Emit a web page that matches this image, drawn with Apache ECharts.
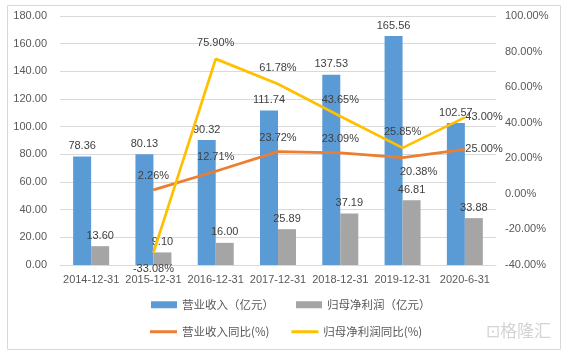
<!DOCTYPE html>
<html>
<head>
<meta charset="utf-8">
<script src="https://cdn.jsdelivr.net/npm/echarts@6/dist/echarts.min.js"></script>
<style>
  html, body { margin: 0; padding: 0; background: #fff; }
  #graph { width: 568px; height: 353px; }
</style>
</head>
<body>
<div id="graph"></div>
<script>
// data
const years = ['2014-12-31', '2015-12-31', '2016-12-31', '2017-12-31', '2018-12-31', '2019-12-31', '2020-6-31'];
const revenue = [78.36, 80.13, 90.32, 111.74, 137.53, 165.56, 102.57];
const profit = [13.60, 9.10, 16.00, 25.89, 37.19, 46.81, 33.88];
const revenueYoy = [null, 2.26, 12.71, 23.72, 23.09, 20.38, 25.00];
const profitYoy = [null, -33.08, 75.90, 61.78, 43.65, 25.85, 43.00];

// where excel put the line labels
const revenueYoyPos = [null, 'top', 'top', 'top', 'top', 'bottom', 'right'];
const profitYoyPos = [null, 'bottom', 'top', 'top', 'top', 'top', 'right'];

const font = 'Liberation Sans';
const cjk = '"Noto Sans CJK SC", sans-serif';

function lineData(values, pos) {
  return values.map(function (v, i) {
    if (v === null) return null;
    let item = {value: v, label: {position: pos[i]}};
    if (i === 5 && pos[i] === 'bottom') item.label.offset = [16, 0];
    if (pos[i] === 'right') item.label.distance = 0;
    return item;
  });
}

let myChart = echarts.init(document.getElementById('graph'));
myChart.setOption({
  backgroundColor: '#fff',
  animation: false,
  grid: {left: 60, right: 72, top: 16, bottom: 88},
  legend: [
    {
      top: 294, left: 146,
      itemWidth: 26, itemHeight: 7, itemGap: 22,
      icon: 'rect',
      textStyle: {fontFamily: cjk, fontSize: 11.5, color: '#595959'},
      data: ['营业收入（亿元）', '归母净利润（亿元）']
    },
    {
      top: 321, left: 145,
      itemWidth: 27, itemHeight: 3, itemGap: 22,
      icon: 'rect',
      textStyle: {fontFamily: cjk, fontSize: 11.5, color: '#595959'},
      data: ['营业收入同比(%)', '归母净利润同比(%)']
    }
  ],
  graphic: [
    {
      type: 'rect', left: 5, top: 3,
      shape: {width: 553, height: 344},
      style: {fill: 'none', stroke: '#d9d9d9', lineWidth: 1}
    },
    {
      type: 'text', left: 486, top: 322,
      style: {text: '⊡格隆汇', fontFamily: cjk, fontSize: 17, fill: '#d4d4d4'}
    }
  ],
  xAxis: {
    type: 'category',
    data: years,
    axisLine: {lineStyle: {color: '#d9d9d9'}},
    axisTick: {show: false},
    axisLabel: {fontFamily: font, fontSize: 11, color: '#595959', margin: 9, interval: 0}
  },
  yAxis: [
    {
      type: 'value', min: 0, max: 180, interval: 20,
      axisLine: {show: false}, axisTick: {show: false},
      splitLine: {lineStyle: {color: '#d9d9d9'}},
      axisLabel: {
        fontFamily: font, fontSize: 11, color: '#595959', margin: 13,
        formatter: function (v) { return v.toFixed(2); }
      }
    },
    {
      type: 'value', min: -40, max: 100, interval: 20,
      axisLine: {show: false}, axisTick: {show: false},
      splitLine: {show: false},
      axisLabel: {
        fontFamily: font, fontSize: 11, color: '#595959', margin: 9,
        formatter: function (v) { return v.toFixed(2) + '%'; }
      }
    }
  ],
  series: [
    {
      name: '营业收入（亿元）',
      type: 'bar',
      barWidth: 18, barGap: '0%',
      itemStyle: {color: '#5B9BD5'},
      label: {
        show: true, position: 'top', distance: 5,
        fontFamily: font, fontSize: 11, color: '#404040',
        formatter: function (p) { return p.value.toFixed(2); }
      },
      data: revenue
    },
    {
      name: '归母净利润（亿元）',
      type: 'bar',
      barWidth: 18, barGap: '0%',
      itemStyle: {color: '#A5A5A5'},
      label: {
        show: true, position: 'top', distance: 5,
        fontFamily: font, fontSize: 11, color: '#404040',
        formatter: function (p) { return p.value.toFixed(2); }
      },
      data: profit
    },
    {
      name: '营业收入同比(%)',
      type: 'line',
      yAxisIndex: 1,
      symbol: 'circle', symbolSize: 1, showSymbol: true,
      lineStyle: {color: '#ED7D31', width: 2.75},
      itemStyle: {color: '#ED7D31'},
      label: {
        show: true, distance: 8,
        fontFamily: font, fontSize: 11, color: '#404040',
        formatter: function (p) { return p.value.toFixed(2) + '%'; }
      },
      data: lineData(revenueYoy, revenueYoyPos)
    },
    {
      name: '归母净利润同比(%)',
      type: 'line',
      yAxisIndex: 1,
      symbol: 'circle', symbolSize: 1, showSymbol: true,
      lineStyle: {color: '#FFC000', width: 2.75},
      itemStyle: {color: '#FFC000'},
      label: {
        show: true, distance: 10,
        fontFamily: font, fontSize: 11, color: '#404040',
        formatter: function (p) { return p.value.toFixed(2) + '%'; }
      },
      data: lineData(profitYoy, profitYoyPos)
    }
  ]
});
</script>
</body>
</html>
